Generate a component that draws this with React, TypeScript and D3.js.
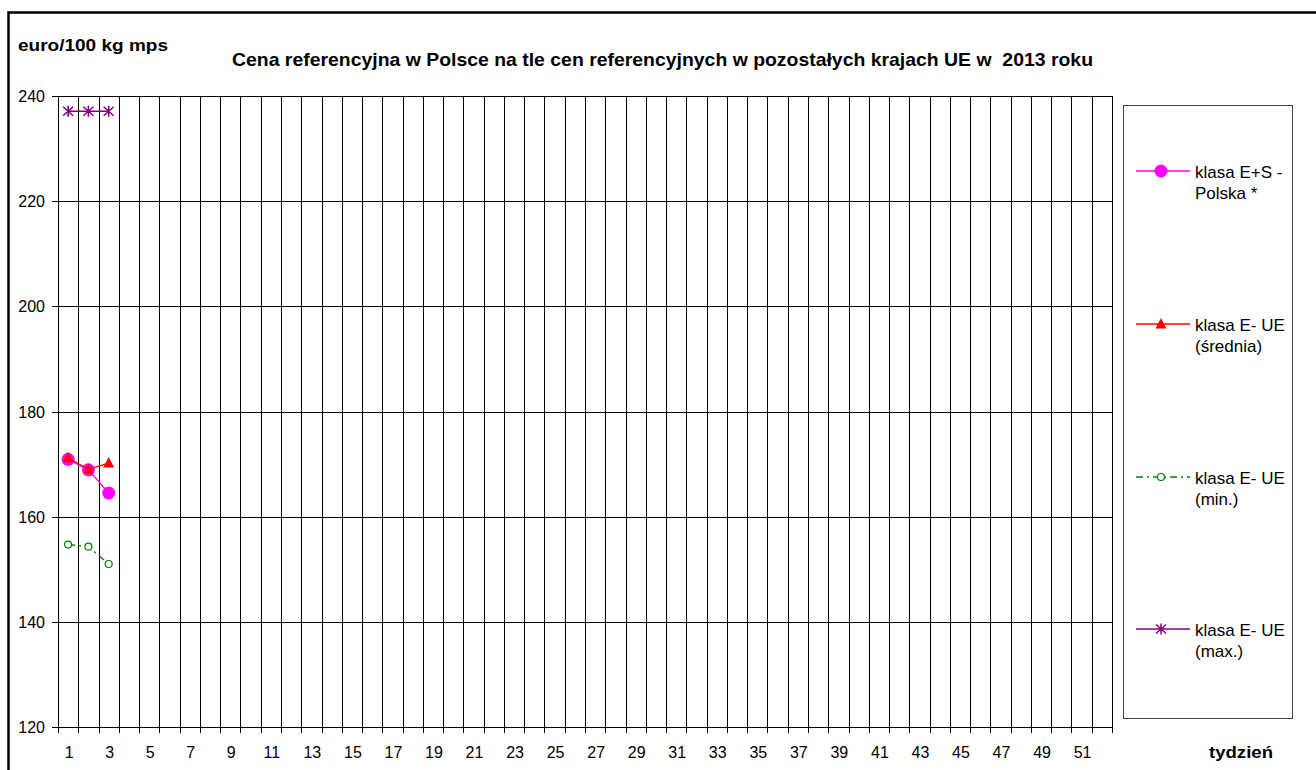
import React, { useEffect, useRef } from 'react';
import * as d3 from 'd3';

// weeks 1..52 on the category axis
const weeks = d3.range(1, 53);
const yTicks = [120, 140, 160, 180, 200, 220, 240];

// only the first three weeks of 2013 have values
const dataWeeks = [1, 2, 3];
const polska = [170.9, 168.9, 164.5];
const sredniaUE = [171.2, 169.0, 170.2];
const minUE = [154.7, 154.3, 151.0];
const maxUE = [237.1, 237.1, 237.1];

const seriesNames = [
    ['klasa E+S -', 'Polska *'],
    ['klasa E- UE', '(średnia)'],
    ['klasa E- UE', '(min.)'],
    ['klasa E- UE', '(max.)'],
];

const title = 'Cena referencyjna w Polsce na tle cen referencyjnych w pozostałych krajach UE w  2013 roku';

const FONT = '"Liberation Sans", Arial, sans-serif';

const drawMarker = (g, kind, color) => {
    if (kind === 'circle') {
        g.append('circle').attr('r', 6.5).attr('fill', color);
    } else if (kind === 'triangle') {
        g.append('path').attr('d', 'M0,-6L5.5,4.5L-5.5,4.5Z').attr('fill', color);
    } else if (kind === 'ring') {
        g.append('circle').attr('r', 3.5).attr('fill', 'white').attr('stroke', color).attr('stroke-width', 1.2);
    } else if (kind === 'star') {
        g.append('path')
            .attr('d', 'M-5,-4.5L5,4.5M-5,4.5L5,-4.5M0,-5.5L0,5.5')
            .attr('stroke', color).attr('stroke-width', 1.5).attr('fill', 'none');
    }
};

const App = () => {
    const chartRef = useRef(null);

    useEffect(() => {
        drawChart();
    }, []);

    const drawChart = () => {
        const svg = d3.select(chartRef.current);
        svg.selectAll('*').remove();

        const left = 58, right = 1112, top = 96, bottom = 727;

        const x = d3.scaleBand().domain(weeks).range([left, right]);
        const y = d3.scaleLinear().domain([120, 240]).range([bottom, top]);
        const cx = (w) => x(w) + x.bandwidth() / 2;

        // outer frame
        svg.append('rect')
            .attr('x', 8.5).attr('y', 12.5).attr('width', 1400).attr('height', 900)
            .attr('fill', 'none').attr('stroke', 'black').attr('stroke-width', 2.5);

        // horizontal grid
        svg.append('g').selectAll('line').data(yTicks).enter().append('line')
            .attr('x1', left - 6).attr('x2', right)
            .attr('y1', d => Math.round(y(d)) + 0.5).attr('y2', d => Math.round(y(d)) + 0.5)
            .attr('stroke', 'black').attr('stroke-width', 1);

        // vertical grid at category boundaries
        const bounds = weeks.map(w => x(w)).concat([right]);
        svg.append('g').selectAll('line').data(bounds).enter().append('line')
            .attr('x1', d => Math.round(d) + 0.5).attr('x2', d => Math.round(d) + 0.5)
            .attr('y1', top).attr('y2', bottom + 6)
            .attr('stroke', 'black').attr('stroke-width', 1);

        // y tick labels
        svg.append('g').selectAll('text').data(yTicks).enter().append('text')
            .attr('x', 45).attr('y', d => y(d) + 6)
            .attr('text-anchor', 'end')
            .style('font-family', FONT).style('font-size', '16px')
            .text(d => d);

        // x tick labels (odd weeks)
        svg.append('g').selectAll('text').data(weeks.filter(w => w % 2 === 1)).enter().append('text')
            .attr('x', d => cx(d) + 1).attr('y', 758)
            .attr('text-anchor', 'middle')
            .style('font-family', FONT).style('font-size', '16px')
            .text(d => d);

        // titles
        svg.append('text').attr('x', 18).attr('y', 51)
            .style('font-family', FONT).style('font-size', '16px').style('font-weight', 'bold')
            .attr('textLength', 150).attr('lengthAdjust', 'spacingAndGlyphs')
            .text('euro/100 kg mps');
        svg.append('text').attr('x', 232).attr('y', 66)
            .style('font-family', FONT).style('font-size', '19px').style('font-weight', 'bold')
            .style('white-space', 'pre')
            .attr('textLength', 861).attr('lengthAdjust', 'spacingAndGlyphs')
            .text(title);
        svg.append('text').attr('x', 1209).attr('y', 758)
            .style('font-family', FONT).style('font-size', '16px').style('font-weight', 'bold')
            .attr('textLength', 64).attr('lengthAdjust', 'spacingAndGlyphs')
            .text('tydzień');

        const series = [
            { values: polska, color: '#ff00ff', marker: 'circle', dash: null },
            { values: sredniaUE, color: '#ff0000', marker: 'triangle', dash: null },
            { values: minUE, color: '#008000', marker: 'ring', dash: '7,4,2,4' },
            { values: maxUE, color: '#800080', marker: 'star', dash: null },
        ];

        const line = d3.line().x(d => cx(d[0])).y(d => y(d[1]));

        series.forEach(s => {
            const pts = dataWeeks.map((w, i) => [w, s.values[i]]);
            svg.append('path').datum(pts)
                .attr('d', line)
                .attr('fill', 'none').attr('stroke', s.color).attr('stroke-width', 1.3)
                .attr('stroke-dasharray', s.dash);
            pts.forEach(p => {
                const g = svg.append('g').attr('transform', `translate(${cx(p[0])},${y(p[1])})`);
                drawMarker(g, s.marker, s.color);
            });
        });

        // legend
        svg.append('rect')
            .attr('x', 1123.5).attr('y', 105.5).attr('width', 169).attr('height', 613)
            .attr('fill', 'white').attr('stroke', '#444').attr('stroke-width', 1);

        const legendY = [171, 324, 477, 629];
        series.forEach((s, i) => {
            const ly = legendY[i];
            svg.append('line')
                .attr('x1', 1136).attr('x2', 1190).attr('y1', ly).attr('y2', ly)
                .attr('stroke', s.color).attr('stroke-width', 1.3)
                .attr('stroke-dasharray', s.dash);
            const g = svg.append('g').attr('transform', `translate(1161,${ly})`);
            drawMarker(g, s.marker, s.color);
            seriesNames[i].forEach((t, j) => {
                svg.append('text')
                    .attr('x', 1195).attr('y', ly + 6.5 + j * 21.5)
                    .style('font-family', FONT).style('font-size', '17px')
                    .text(t);
            });
        });
    };

    return (
        <svg
            ref={chartRef}
            width={1316}
            height={770}
            style={{ position: 'absolute', left: 0, top: 0, background: 'white' }}
        />
    );
};

export default App;
